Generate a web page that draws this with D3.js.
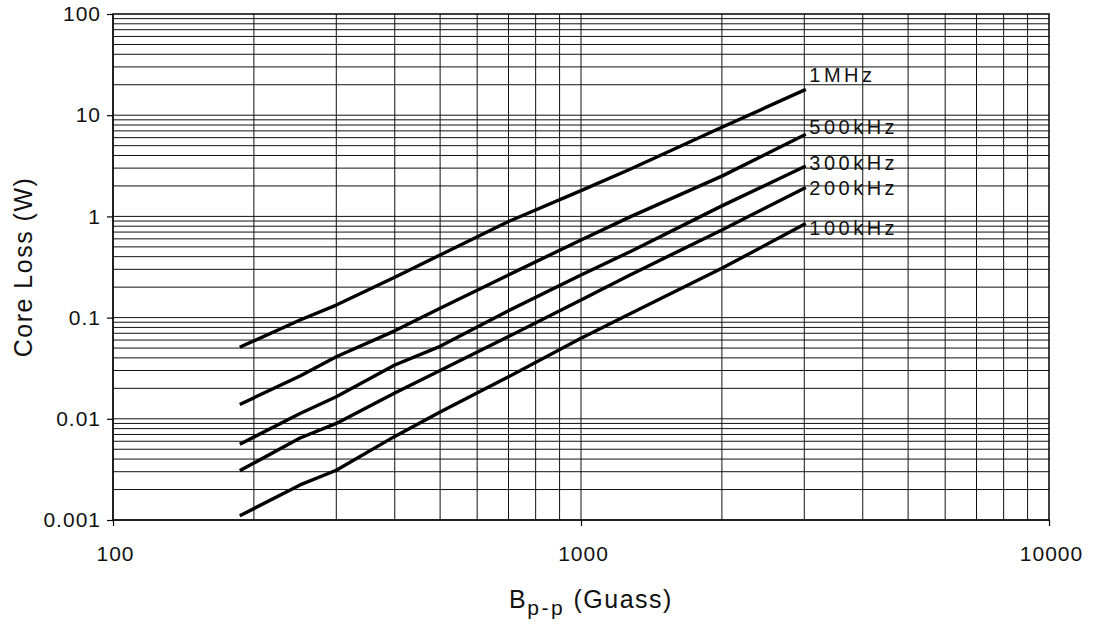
<!DOCTYPE html>
<meta charset="utf-8">
<style>
  body { margin: 0; background: #fff; font-family: 'Liberation Sans', Arial, sans-serif; }
  .tick-label { font-size: 21px; letter-spacing: 1px; fill: #111; }
  .series-label { font-size: 20px; letter-spacing: 3.5px; fill: #111; }
  .axis-title { font-size: 25px; letter-spacing: 1.5px; fill: #111; }
</style>
<body>
<div id="chart"></div>
<script src="https://d3js.org/d3.v7.min.js"></script>
<script>
// flux density B p-p (Gauss)
var bValues = [188, 251, 300, 400, 500, 700, 1000, 1273, 2000, 3000];

// core loss (W) per frequency
var loss1MHz   = [0.0517, 0.0946, 0.133, 0.25, 0.416, 0.89, 1.80, 2.92, 7.6, 17.7];
var loss500kHz = [0.0141, 0.0265, 0.041, 0.074, 0.124, 0.264, 0.585, 0.99, 2.5, 6.37];
var loss300kHz = [0.0057, 0.0113, 0.0165, 0.034, 0.052, 0.117, 0.264, 0.448, 1.27, 3.10];
var loss200kHz = [0.00313, 0.00646, 0.0090, 0.018, 0.030, 0.065, 0.149, 0.264, 0.735, 1.90];
var loss100kHz = [0.00112, 0.00222, 0.0031, 0.0067, 0.0117, 0.026, 0.0624, 0.109, 0.307, 0.835];

var seriesNames = ["1MHz", "500kHz", "300kHz", "200kHz", "100kHz"];
var seriesValues = [loss1MHz, loss500kHz, loss300kHz, loss200kHz, loss100kHz];

var xTicks = [100, 1000, 10000];
var xTickLabels = ["100", "1000", "10000"];
var yTicks = [0.001, 0.01, 0.1, 1, 10, 100];
var yTickLabels = ["0.001", "0.01", "0.1", "1", "10", "100"];

var width = 1094, height = 624;
var margin = {top: 14, right: 45, bottom: 104, left: 113};
var w = width - margin.left - margin.right;
var h = height - margin.top - margin.bottom;

var svg = d3.select("#chart").append("svg")
  .attr("width", width)
  .attr("height", height);

var g = svg.append("g").attr("transform", `translate(${margin.left},${margin.top})`);

var x = d3.scaleLog().domain([100, 10000]).range([0, w]);
var y = d3.scaleLog().domain([0.001, 100]).range([h, 0]);

// minor + major gridlines
var xGrid = [];
[100, 1000].forEach(function(dec) {
  for (var k = 1; k <= 9; k++) xGrid.push(dec * k);
});
var yGrid = [];
[0.001, 0.01, 0.1, 1, 10].forEach(function(dec) {
  for (var k = 1; k <= 9; k++) yGrid.push(dec * k);
});

g.selectAll(".vgrid").data(xGrid).enter().append("line")
  .attr("class", "vgrid")
  .attr("x1", d => x(d)).attr("x2", d => x(d))
  .attr("y1", 0).attr("y2", h)
  .attr("stroke", "#111").attr("stroke-width", 1);

g.selectAll(".hgrid").data(yGrid).enter().append("line")
  .attr("class", "hgrid")
  .attr("x1", 0).attr("x2", w)
  .attr("y1", d => y(d)).attr("y2", d => y(d))
  .attr("stroke", "#111").attr("stroke-width", 1);

// frame
g.append("rect")
  .attr("x", 0).attr("y", 0)
  .attr("width", w).attr("height", h)
  .attr("fill", "none")
  .attr("stroke", "#000")
  .attr("stroke-width", 1.5);

// axes (decade ticks only)
var xAxis = d3.axisBottom(x).tickValues(xTicks).tickSize(6).tickFormat((d, i) => xTickLabels[i]).tickPadding(20);
var yAxis = d3.axisLeft(y).tickValues(yTicks).tickSize(6).tickFormat((d, i) => yTickLabels[i]).tickPadding(6);

var gx = g.append("g").attr("transform", `translate(0,${h})`).call(xAxis);
var gy = g.append("g").call(yAxis);
[gx, gy].forEach(function(a) {
  a.select(".domain").remove();
  a.selectAll(".tick line").attr("stroke", "#000").attr("stroke-width", 1.2);
  a.selectAll(".tick text").attr("class", "tick-label").attr("font-family", null).attr("font-size", null).attr("fill", null);
});
gx.selectAll(".tick text").attr("dx", 2);

// curves
var line = d3.line()
  .x((d, i) => x(bValues[i]))
  .y(d => y(d));

g.selectAll(".series").data(seriesValues).enter().append("path")
  .attr("class", "series")
  .attr("d", d => line(d))
  .attr("fill", "none")
  .attr("stroke", "#000")
  .attr("stroke-width", 3.4)
  .attr("stroke-linejoin", "round")
  .attr("stroke-linecap", "square");

// series labels at the right end of each curve
var labelDy = [-8, -1, 3, 7, 11];
g.selectAll(".series-label").data(seriesNames).enter().append("text")
  .attr("class", "series-label")
  .attr("x", x(bValues[bValues.length - 1]) + 5)
  .attr("y", (d, i) => y(seriesValues[i][seriesValues[i].length - 1]) + labelDy[i])
  .text(d => d);

// x-axis title: B with subscript p-p
var xt = svg.append("text")
  .attr("class", "axis-title")
  .attr("x", margin.left + w / 2 + 10)
  .attr("y", 608)
  .attr("text-anchor", "middle");
xt.append("tspan").text("B");
xt.append("tspan").attr("dy", 7).style("font-size", "21px").style("letter-spacing", "2.5px").text("p-p");
xt.append("tspan").attr("dy", -7).text(" (Guass)");

// y-axis title
svg.append("text")
  .attr("class", "axis-title")
  .attr("transform", `translate(32,${margin.top + h / 2}) rotate(-90)`)
  .attr("text-anchor", "middle")
  .text("Core Loss (W)");
</script>
</body>
